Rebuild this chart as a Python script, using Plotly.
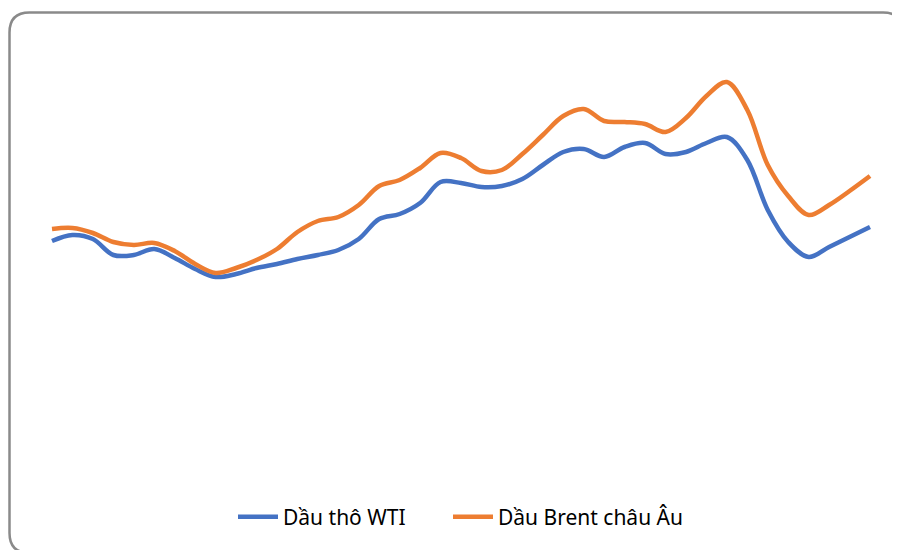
import plotly.graph_objects as go

# Monthly-style observation index (evenly spaced samples)
periods = list(range(41))

# Values (price-like units)
wti = [61.8, 63.0, 62.2, 59.0, 59.0, 60.2, 58.4, 56.2, 54.6, 55.2,
       56.4, 57.2, 58.2, 59.0, 60.0, 62.2, 66.2, 67.2, 69.4, 73.6,
       73.4, 72.6, 72.8, 74.2, 77.0, 79.6, 80.2, 78.6, 80.6, 81.4,
       79.2, 79.6, 81.4, 82.6, 78.0, 68.0, 61.6, 58.6, 60.6, 62.6,
       64.6]
brent = [64.2, 64.4, 63.4, 61.6, 61.0, 61.4, 59.8, 57.2, 55.4, 56.4,
         58.0, 60.2, 63.6, 65.8, 66.6, 69.0, 72.8, 74.0, 76.4, 79.4,
         78.4, 75.8, 76.0, 79.2, 83.0, 86.8, 88.2, 85.8, 85.6, 85.2,
         83.6, 86.4, 90.8, 93.6, 88.0, 77.0, 70.8, 67.0, 69.0, 71.8,
         74.8]

names = ["Dầu thô WTI", "Dầu Brent châu Âu"]
colors = ["#4472C4", "#ED7D31"]
legends = ["legend", "legend2"]

fig = go.Figure()
for name, vals, col, lg in zip(names, [wti, brent], colors, legends):
    fig.add_trace(go.Scatter(
        x=periods, y=vals, mode="lines", name=name, legend=lg,
        line=dict(color=col, width=4.5, shape="spline", smoothing=1.0),
        hoverinfo="skip"))

W, H = 900, 550
OFF = 8  # page body margin
def px(x):
    return (x - OFF) / W
def py(y):
    return 1 - (y - OFF) / H

x0, y0, x1, y1, r = 9.5, 12.5, 903, 553, 20
path = (f"M {px(x0)},{py(y0 + r)} Q {px(x0)},{py(y0)} {px(x0 + r)},{py(y0)} "
        f"L {px(x1 - r)},{py(y0)} Q {px(x1)},{py(y0)} {px(x1)},{py(y0 + r)} "
        f"L {px(x1)},{py(y1 - r)} Q {px(x1)},{py(y1)} {px(x1 - r)},{py(y1)} "
        f"L {px(x0 + r)},{py(y1)} Q {px(x0)},{py(y1)} {px(x0)},{py(y1 - r)} Z")

legend_style = dict(orientation="h", yanchor="middle", y=py(517), xanchor="left",
                    font=dict(family="Noto Sans, sans-serif", size=21, color="#000000"),
                    bgcolor="rgba(0,0,0,0)", itemwidth=40)

fig.update_layout(
    width=W, height=H,
    margin=dict(l=0, r=0, t=0, b=0),
    paper_bgcolor="white", plot_bgcolor="white",
    xaxis=dict(visible=False, range=[-(52 - OFF) / 20.45, (900 - 52 + OFF) / 20.45]),
    yaxis=dict(visible=False, range=[-OFF / 5, (550 - OFF) / 5]),
    showlegend=True,
    legend=dict(x=px(233), **legend_style),
    legend2=dict(x=px(448), **legend_style),
    shapes=[dict(type="path", path=path, xref="paper", yref="paper",
                 line=dict(color="#8a8a8a", width=2.5), fillcolor="rgba(0,0,0,0)",
                 layer="above")],
)

fig.write_html("out.html")
